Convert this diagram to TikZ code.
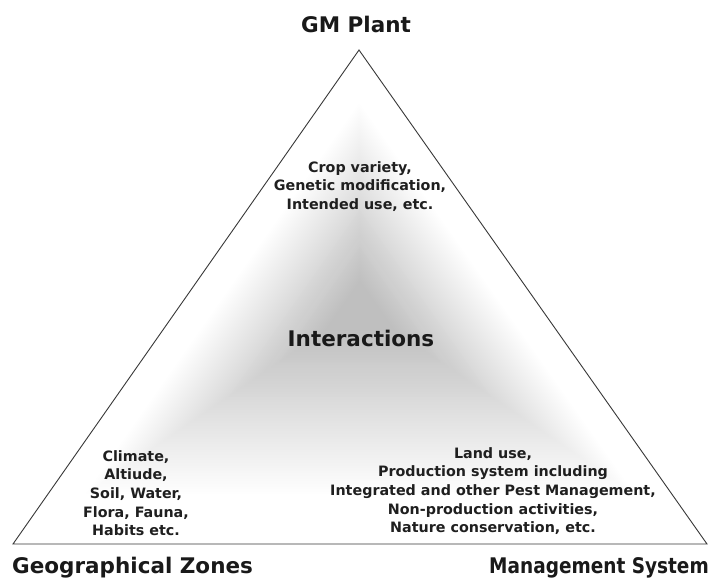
\documentclass[tikz,border=0pt]{standalone}
\usepackage{fontspec}
\setmainfont{DejaVu Sans}
\usetikzlibrary{calc}
\tikzset{
  biglabel/.style={font=\bfseries\fontsize{21.5}{26}\selectfont, inner sep=0pt, text=black!90},
  smalltext/.style={font=\bfseries\fontsize{14.3}{18.7}\selectfont, align=center, inner sep=0pt, anchor=north, text=black!88},
  edge/.style={draw=black!78, line width=0.9pt, line join=miter}
}
\begin{document}
\begin{tikzpicture}[x=1pt,y=1pt]
\useasboundingbox (0,0) rectangle (712,579);
\fill[white] (0,0) rectangle (712,579);
\coordinate (A) at (359,529);
\coordinate (L) at (13,35);
\coordinate (R) at (707,35);
\coordinate (C) at (360,272);
% path-gradient style shading
\foreach \i in {0,...,90}{
  \pgfmathsetmacro\s{1-\i/90}
  \pgfmathsetmacro\g{0.75+0.25*max(0,min(1,(\s-0.1)/0.7))}
  \definecolor{shd}{gray}{\g}
  \fill[shd] ($(C)!\s!(A)$) -- ($(C)!\s!(L)$) -- ($(C)!\s!(R)$) -- cycle;
}
\draw[edge] (A) -- (L) -- (R) -- cycle;
\node[biglabel, anchor=base] (gm) at (356,546) {GM Plant};
\node[biglabel, anchor=base] (inter) at (361,233) {Interactions};
\node[biglabel, anchor=base west] (geo) at (12,5.5) {Geographical Zones};
\node[biglabel, anchor=base east] (man) at (709,5.5) {\scalebox{0.86}[1]{Management System}};
\node[smalltext] (crop) at (360,418) {Crop variety,\\Genetic modification,\\Intended use, etc.};
\node[smalltext] (clim) at (136,129) {Climate,\\Altiude,\\Soil, Water,\\Flora, Fauna,\\Habits etc.};
\node[smalltext] (land) at (493,132) {Land use,\\Production system including\\Integrated and other Pest Management,\\Non-production activities,\\Nature conservation, etc.};
\end{tikzpicture}
\end{document}
